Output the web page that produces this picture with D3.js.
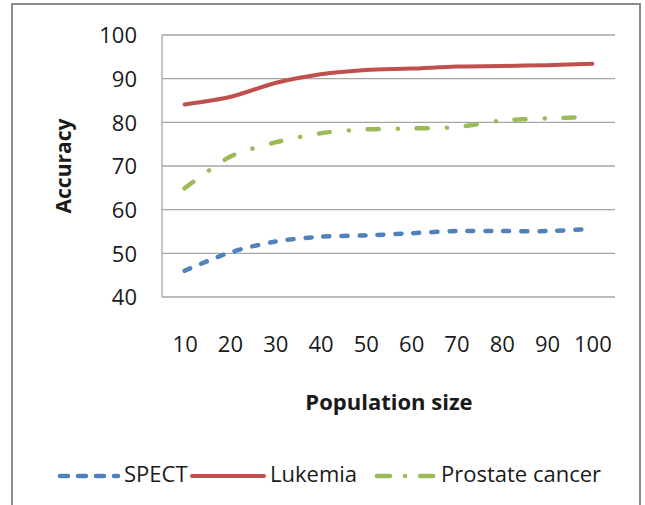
<!DOCTYPE html>
<html>
<head>
<meta charset="utf-8">
<script src="https://cdn.jsdelivr.net/npm/d3@7"></script>
<style>
  html, body { margin: 0; padding: 0; background: #fff; }
  svg { display: block; }
  text { font-family: "Open Sans", "Noto Sans", sans-serif; fill: #1a1a1a; }
</style>
</head>
<body>
<svg id="chart" width="645" height="505"></svg>
<script>
const categories = ["10", "20", "30", "40", "50", "60", "70", "80", "90", "100"];
const spect    = [46.0, 50.2, 52.7, 53.8, 54.1, 54.6, 55.1, 55.1, 55.1, 55.6];
const lukemia  = [84.1, 85.8, 89.0, 91.0, 92.0, 92.3, 92.8, 92.9, 93.1, 93.4];
const prostate = [64.9, 72.1, 75.4, 77.5, 78.4, 78.6, 78.9, 80.4, 80.9, 81.2];
const yTicks   = [40, 50, 60, 70, 80, 90, 100];
const seriesNames = ["SPECT", "Lukemia", "Prostate cancer"];

const svg = d3.select("#chart");

// outer frame
svg.append("rect").attr("x", 12).attr("y", 4).attr("width", 628).attr("height", 510)
  .attr("fill", "#fff").attr("stroke", "#8c8c8c").attr("stroke-width", 2);

const pLeft = 162, pRight = 615, pTop = 35, pBottom = 297;
const x = d3.scalePoint().domain(categories).range([pLeft, pRight]).padding(0.5);
const y = d3.scaleLinear().domain([40, 100]).range([pBottom, pTop]);

// gridlines
svg.append("g").selectAll("line").data(yTicks).join("line")
  .attr("x1", pLeft).attr("x2", pRight)
  .attr("y1", d => y(d)).attr("y2", d => y(d))
  .attr("stroke", "#a6a6a6").attr("stroke-width", 1.3);

// left axis line
svg.append("line").attr("x1", pLeft).attr("x2", pLeft).attr("y1", pTop).attr("y2", pBottom)
  .attr("stroke", "#a6a6a6").attr("stroke-width", 1.3);

// y axis labels
const yAxis = d3.axisLeft(y).tickValues(yTicks).tickSize(0).tickPadding(0);
const gy = svg.append("g").attr("transform", `translate(${pLeft - 25},0)`).call(yAxis);
gy.select(".domain").remove();
gy.selectAll("text").style("font-size", "22px").attr("fill", "#1a1a1a")
  .style("font-family", "'Open Sans', sans-serif").attr("dy", "0.35em");

// x axis labels
const xAxis = d3.axisBottom(x).tickSize(0).tickPadding(0);
const gx = svg.append("g").attr("transform", `translate(0,${pBottom + 47})`).call(xAxis);
gx.select(".domain").remove();
gx.selectAll("text").style("font-size", "22px").attr("fill", "#1a1a1a")
  .style("font-family", "'Open Sans', sans-serif").attr("dy", "0.35em");

// axis titles
svg.append("text").attr("x", 389).attr("y", 404).attr("text-anchor", "middle")
  .attr("dominant-baseline", "middle")
  .style("font-size", "22px").style("font-weight", "bold").text("Population size");
svg.append("text").attr("transform", "translate(65,166) rotate(-90)")
  .attr("text-anchor", "middle").attr("dominant-baseline", "middle")
  .style("font-size", "21px").style("font-weight", "bold").text("Accuracy");

const styles = [
  { color: "#4F81BD", dash: "6,12", width: 4.5, data: spect },
  { color: "#C0504D", dash: null, width: 4, data: lukemia },
  { color: "#9BBB59", dash: "11,19,0.1,19", width: 4.5, data: prostate }
];

const line = d3.line()
  .x((d, i) => x(categories[i]))
  .y(d => y(d))
  .curve(d3.curveCardinal.tension(0.2));

styles.forEach(s => {
  svg.append("path").datum(s.data).attr("d", line)
    .attr("fill", "none").attr("stroke", s.color).attr("stroke-width", s.width)
    .attr("stroke-linecap", "round").attr("stroke-linejoin", "round")
    .attr("stroke-dasharray", s.dash);
});

// legend
const legendItems = [
  { lx1: 60, lx2: 118, tx: 124, dash: "8,10" },
  { lx1: 192, lx2: 264, tx: 270, dash: null },
  { lx1: 377, lx2: 436, tx: 441, dash: "13,15,0.1,15" }
];
const ly = 476;
legendItems.forEach((li, i) => {
  const s = styles[i];
  svg.append("line").attr("x1", li.lx1).attr("x2", li.lx2).attr("y1", ly).attr("y2", ly)
    .attr("stroke", s.color).attr("stroke-width", s.width)
    .attr("stroke-linecap", "round")
    .attr("stroke-dasharray", li.dash);
  svg.append("text").attr("x", li.tx).attr("y", ly).attr("dominant-baseline", "middle")
    .style("font-size", "22px").text(seriesNames[i]);
});
</script>
</body>
</html>
